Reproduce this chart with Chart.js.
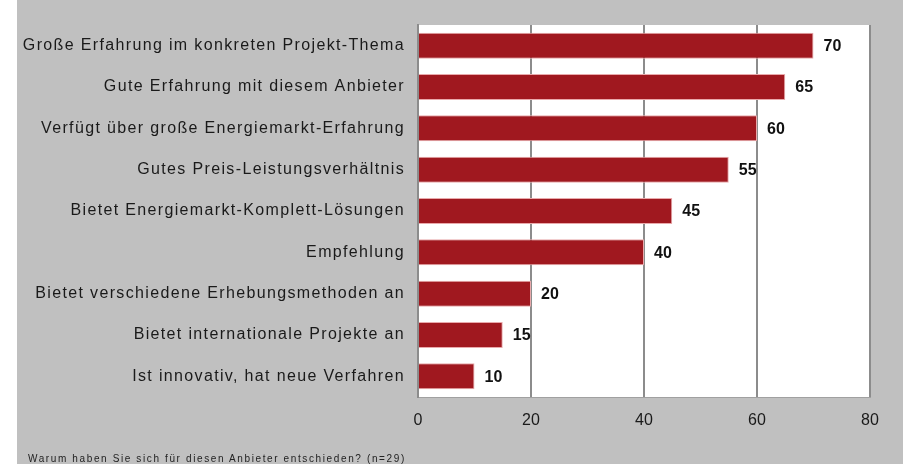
<!DOCTYPE html>
<html>
<head>
<meta charset="utf-8">
<script src="https://cdn.jsdelivr.net/npm/chart.js@4.4.1/dist/chart.umd.min.js"></script>
<style>
  html, body { margin: 0; padding: 0; background: #fff; }
  #wrap { position: absolute; left: 17px; top: 0; width: 886px; height: 464px; background: #c0c0c0; }
  #note { position: absolute; left: 28px; top: 453px; font: 10px "Liberation Sans", Arial, sans-serif; letter-spacing: 1.62px; color: #222; white-space: nowrap; }
</style>
</head>
<body>
<div id="wrap"><canvas id="anbieterChart"></canvas></div>
<div id="note">Warum haben Sie sich für diesen Anbieter entschieden? (n=29)</div>
<script>
var categories = [
  "Große Erfahrung im konkreten Projekt-Thema",
  "Gute Erfahrung mit diesem Anbieter",
  "Verfügt über große Energiemarkt-Erfahrung",
  "Gutes Preis-Leistungsverhältnis",
  "Bietet Energiemarkt-Komplett-Lösungen",
  "Empfehlung",
  "Bietet verschiedene Erhebungsmethoden an",
  "Bietet internationale Projekte an",
  "Ist innovativ, hat neue Verfahren"
];
var values = [70, 65, 60, 55, 45, 40, 20, 15, 10];
var xTicks = [0, 20, 40, 60, 80];

// white plot area; spaced-out category labels (x tick labels are drawn later with normal spacing)
var plotBg = {
  id: 'plotBg',
  beforeDraw: function(chart) {
    var a = chart.chartArea, c = chart.ctx;
    c.save();
    c.fillStyle = '#ffffff';
    c.fillRect(a.left, a.top, a.right - a.left, a.bottom - a.top);
    c.restore();
    c.letterSpacing = '1.35px';
  },
  afterDraw: function(chart) {
    chart.ctx.letterSpacing = '0px';
  }
};
var valueLabels = {
  id: 'valueLabels',
  afterDatasetsDraw: function(chart) {
    var c = chart.ctx;
    var meta = chart.getDatasetMeta(0);
    c.letterSpacing = '0px';
    c.save();
    c.font = 'bold 16px "Liberation Sans", Arial, sans-serif';
    c.fillStyle = '#111';
    c.textBaseline = 'middle';
    meta.data.forEach(function(bar, i) {
      c.fillText(values[i], bar.x + 10, bar.y + 1);
    });
    c.restore();
  }
};

var ctx = document.getElementById('anbieterChart').getContext("2d");

var myChart = new Chart(ctx, {
  type: 'bar',
  data: {
    labels: categories,
    datasets: [{
      data: values,
      backgroundColor: "#a0181f",
      borderColor: "#e9a9ab",
      borderWidth: 1,
      categoryPercentage: 1,
      barPercentage: 0.63
    }]
  },
  options: {
    indexAxis: 'y',
    responsive: true,
    maintainAspectRatio: false,
    animation: false,
    layout: { padding: { top: 25, right: 33, left: 0, bottom: 0 } },
    plugins: {
      legend: { display: false },
      tooltip: { enabled: false }
    },
    scales: {
      x: {
        min: 0,
        max: 80,
        afterBuildTicks: function(scale) {
          scale.ticks = xTicks.map(function(v) { return { value: v }; });
        },
        afterFit: function(scale) { scale.height = 67; },
        grid: { color: '#8c8c8c', lineWidth: 2, drawTicks: false },
        border: { display: true, color: '#a0a0a0', width: 1 },
        ticks: {
          z: 1,
          padding: 14,
          color: '#1a1a1a',
          font: { family: '"Liberation Sans", Arial, sans-serif', size: 16 }
        }
      },
      y: {
        afterFit: function(scale) { scale.width = 401; },
        grid: { display: false, drawTicks: false },
        border: { display: true, color: '#8c8c8c', width: 2 },
        ticks: {
          padding: 13,
          color: '#1a1a1a',
          autoSkip: false,
          font: { family: '"Liberation Sans", Arial, sans-serif', size: 16 }
        }
      }
    }
  },
  plugins: [plotBg, valueLabels]
});
</script>
</body>
</html>
